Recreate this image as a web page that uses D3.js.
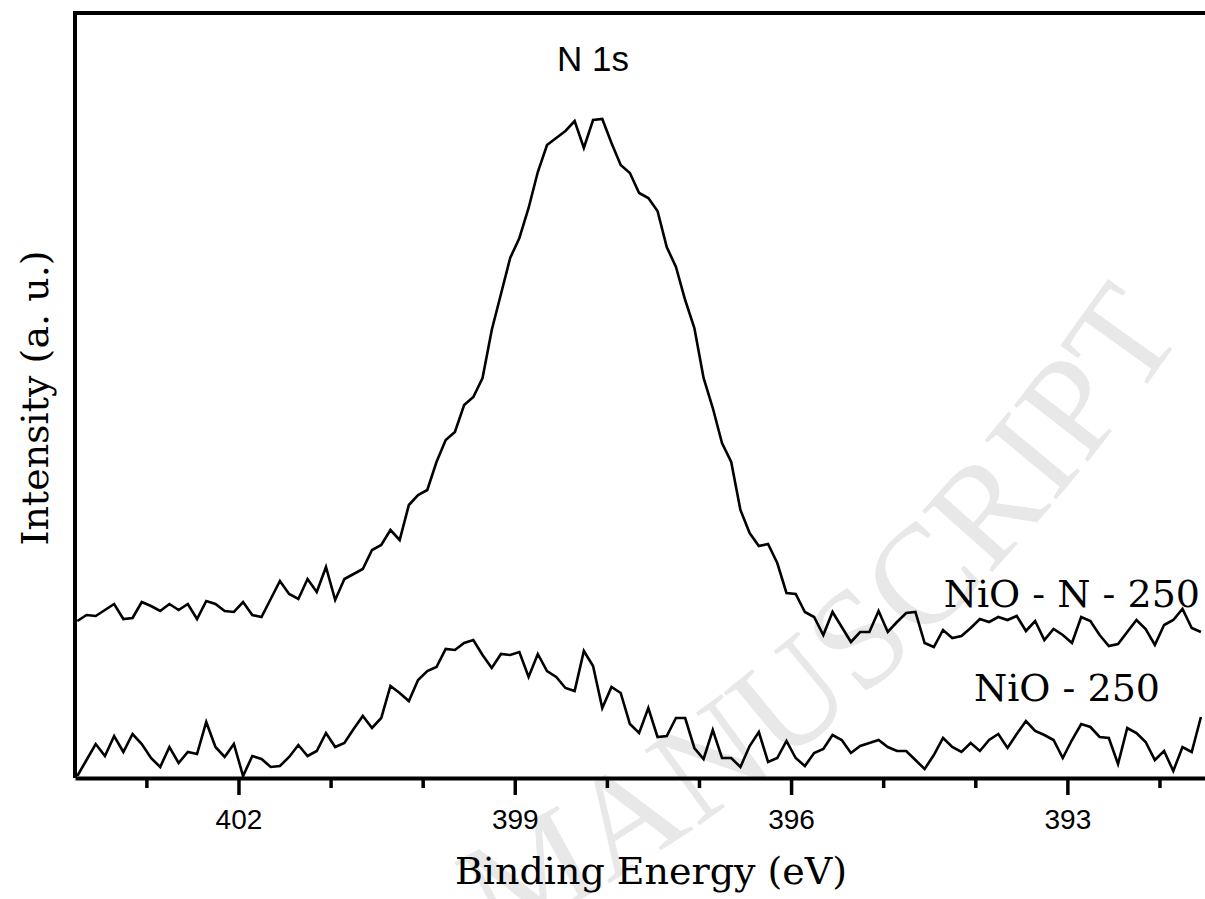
<!DOCTYPE html>
<html>
<head>
<meta charset="utf-8">
<script src="https://cdn.jsdelivr.net/npm/d3@7/dist/d3.min.js"></script>
<style>
    html, body { margin: 0; background: #fff; overflow: hidden; }
    svg { display: block; overflow: hidden; }
</style>
</head>
<body>
<div id="chart"></div>
<script>
// energy grid of the scans (eV), first point and step
const energyStart = 403.75;
const energyStep = 0.1;

// NiO - N - 250, counts (arb. units)
const nitridedCounts = [
    157, 163, 162, 168, 174, 159, 160, 176, 172, 167, 174, 168, 174, 159, 177, 174, 167, 166, 176, 163,
    161, 179, 197, 184, 179, 199, 186, 211, 178, 199, 204, 209, 228, 233, 248, 238, 273, 283, 288, 316,
    338, 346, 373, 381, 400, 448, 484, 520, 540, 570, 606, 633, 640, 647, 657, 630, 658, 659, 635, 613,
    605, 585, 580, 567, 531, 511, 478, 450, 400, 370, 335, 316, 268, 245, 232, 234, 215, 185, 184, 166,
    161, 143, 166, 151, 136, 146, 146, 167, 146, 156, 165, 166, 135, 131, 148, 140, 142, 150, 159, 156,
    161, 158, 162, 147, 157, 138, 149, 143, 135, 161, 157, 143, 132, 134, 146, 158, 149, 133, 153, 158,
    169, 150, 146
];

// NiO - 250
const plainCounts = [
    2, 18, 34, 22, 42, 26, 44, 34, 20, 11, 31, 15, 26, 24, 56, 31, 21, 34, 2, 22,
    19, 11, 12, 21, 33, 22, 27, 45, 31, 35, 49, 62, 50, 60, 92, 85, 77, 98, 107, 111,
    129, 128, 135, 138, 123, 110, 124, 123, 126, 101, 124, 107, 101, 90, 87, 127, 112, 70, 91, 85,
    54, 45, 70, 41, 42, 60, 60, 30, 19, 48, 20, 20, 11, 32, 46, 16, 20, 37, 20, 12,
    25, 29, 43, 38, 25, 32, 35, 38, 31, 27, 27, 18, 9, 23, 40, 31, 26, 35, 27, 38,
    44, 30, 44, 57, 47, 43, 38, 20, 38, 54, 51, 41, 40, 14, 50, 45, 36, 18, 27, 7,
    31, 26, 61
];

const majorTicks = [402, 399, 396, 393];
const minorTicks = [403, 401, 400, 398, 397, 395, 394, 392];

const seriesLabels = ["NiO - N - 250", "NiO - 250"];

class XpsVis {
    constructor(parentElement) {
        this.parentElement = parentElement;
        this.initVis();
    }

    initVis() {
        let vis = this;

        vis.W = 1205;
        vis.H = 899;
        vis.margin = {top: 13, left: 75, bottom: 121};
        vis.width = 1160;              // right frame edge lies outside the picture
        vis.height = vis.H - vis.margin.top - vis.margin.bottom;

        vis.svg = d3.select("#" + vis.parentElement).append("svg")
            .attr("width", vis.W)
            .attr("height", vis.H);

        // faint "accepted manuscript" watermark behind everything
        vis.svg.append("defs").append("path")
            .attr("id", "wm-path")
            .attr("d", "M 495,945 Q 975,705 1280,180");
        vis.svg.append("text")
            .attr("font-family", "Liberation Serif, serif")
            .attr("font-size", 142)
            .attr("fill", "#e8e8e8")
            .append("textPath")
            .attr("href", "#wm-path")
            .attr("startOffset", 0)
            .attr("letter-spacing", 2)
            .text("MANUSCRIPT");

        vis.g = vis.svg.append("g")
            .attr("transform", `translate(${vis.margin.left},${vis.margin.top})`);

        // scales - binding energy runs right to left, 92.1 px per eV
        vis.x = d3.scaleLinear()
            .domain([403.775, 403.775 - vis.width / 92.1])
            .range([0, vis.width]);

        vis.y = d3.scaleLinear()
            .domain([0, 765])
            .range([vis.height, 0]);

        vis.line = d3.line()
            .x((d, i) => vis.x(energyStart - i * energyStep))
            .y(d => vis.y(d));

        vis.updateVis();
    }

    updateVis() {
        let vis = this;

        // spectra
        [nitridedCounts, plainCounts].forEach(s => {
            vis.g.append("path")
                .datum(s)
                .attr("fill", "none")
                .attr("stroke", "#000")
                .attr("stroke-width", 2.6)
                .attr("d", vis.line);
        });

        // frame: top and left only
        vis.g.append("path")
            .attr("d", `M${vis.width},0 H0 V${vis.height}`)
            .attr("fill", "none")
            .attr("stroke", "#000")
            .attr("stroke-width", 4);

        // bottom axis with major + minor ticks
        vis.xAxis = d3.axisBottom(vis.x)
            .tickValues(majorTicks)
            .tickSize(17)
            .tickSizeOuter(0)
            .tickPadding(14)
            .tickFormat(d3.format("d"));

        let ax = vis.g.append("g")
            .attr("transform", `translate(0,${vis.height})`)
            .call(vis.xAxis);
        ax.select(".domain").attr("stroke-width", 4);
        ax.selectAll(".tick line").attr("stroke-width", 3.5);
        ax.selectAll(".tick text")
            .attr("font-family", "Liberation Sans, Arial, sans-serif")
            .attr("font-size", 28)
            .attr("fill", "#000");

        let minorAx = vis.g.append("g")
            .attr("transform", `translate(0,${vis.height})`)
            .call(d3.axisBottom(vis.x).tickValues(minorTicks).tickSize(10).tickFormat(""));
        minorAx.select(".domain").remove();
        minorAx.selectAll(".tick line").attr("stroke-width", 3.5);

        // axis titles
        vis.svg.append("text")
            .attr("x", 651)
            .attr("y", 884)
            .attr("text-anchor", "middle")
            .attr("font-family", "DejaVu Serif")
            .attr("font-size", 38)
            .text("Binding Energy (eV)");

        vis.svg.append("text")
            .attr("transform", "translate(48,398)rotate(-90)")
            .attr("text-anchor", "middle")
            .attr("font-family", "DejaVu Serif")
            .attr("font-size", 38)
            .text("Intensity (a. u.)");

        // annotations
        vis.svg.append("text")
            .attr("x", 593)
            .attr("y", 71)
            .attr("text-anchor", "middle")
            .attr("font-family", "Liberation Sans, Arial, sans-serif")
            .attr("font-size", 35)
            .text("N 1s");

        vis.svg.append("text")
            .attr("x", 1200)
            .attr("y", 607)
            .attr("text-anchor", "end")
            .attr("font-family", "DejaVu Serif")
            .attr("font-size", 38)
            .text(seriesLabels[0]);

        vis.svg.append("text")
            .attr("x", 1067)
            .attr("y", 701)
            .attr("text-anchor", "middle")
            .attr("font-family", "DejaVu Serif")
            .attr("font-size", 38)
            .text(seriesLabels[1]);
    }
}

new XpsVis("chart");
</script>
</body>
</html>
